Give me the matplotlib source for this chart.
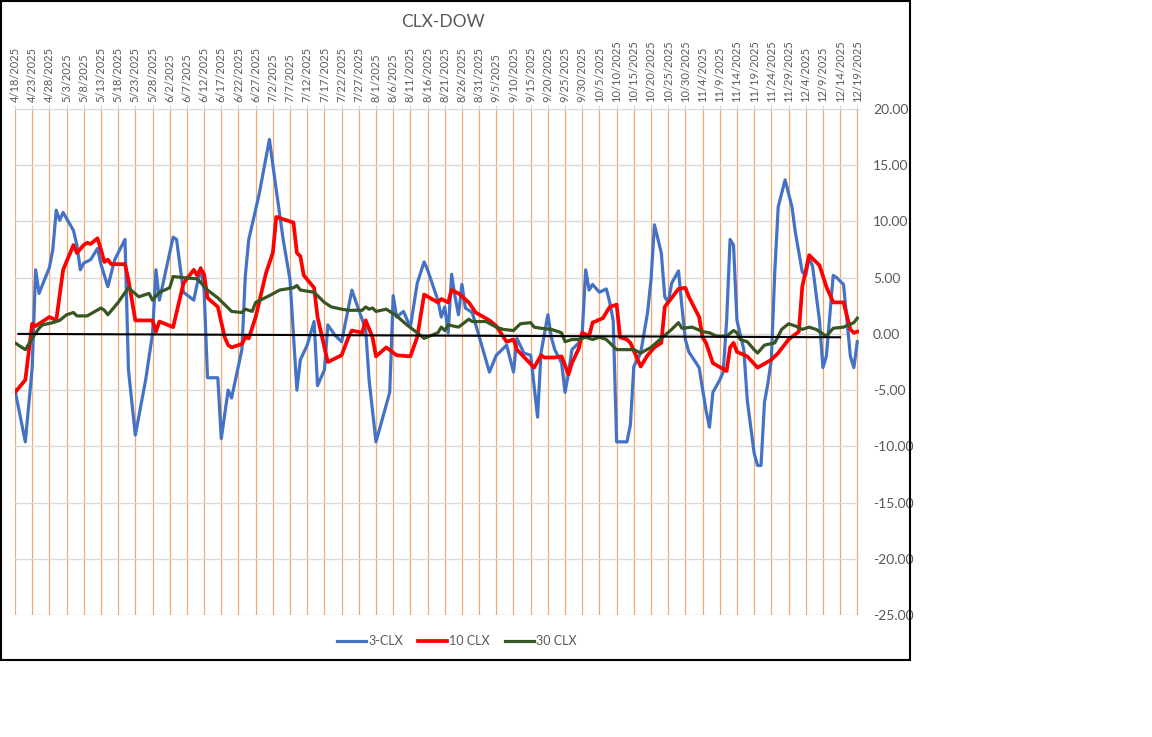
import pandas as pd
import matplotlib
matplotlib.use("Agg")
import matplotlib.pyplot as plt
from matplotlib.patches import Rectangle

plt.rcParams['font.family'] = ['Lato', 'DejaVu Sans']

# 3-day series
blue_dates = ["4/18", "4/21", "4/23", "4/24", "4/25", "4/28", "4/29", "4/30", "5/1", "5/2",
              "5/5", "5/6", "5/7", "5/8", "5/10", "5/12", "5/13", "5/15", "5/17", "5/20",
              "5/21", "5/23", "5/26", "5/28", "5/29", "5/30", "5/31", "6/3", "6/4", "6/6",
              "6/9", "6/11", "6/12", "6/13", "6/16", "6/17", "6/19", "6/20", "6/23", "6/24",
              "6/25", "6/28", "7/1", "7/3", "7/5", "7/7", "7/9", "7/10", "7/12", "7/14",
              "7/15", "7/17", "7/18", "7/20", "7/22", "7/25", "7/26", "7/29", "7/30", "8/1",
              "8/4", "8/5", "8/6", "8/7", "8/9", "8/11", "8/13", "8/15", "8/16", "8/19",
              "8/20", "8/21", "8/22", "8/23", "8/24", "8/25", "8/26", "8/27", "8/29", "9/3",
              "9/5", "9/8", "9/10", "9/11", "9/13", "9/15", "9/17", "9/18", "9/20", "9/21",
              "9/22", "9/24", "9/25", "9/26", "9/27", "9/29", "9/30", "10/1", "10/2", "10/3",
              "10/5", "10/7", "10/8", "10/9", "10/10", "10/13", "10/14", "10/15", "10/17", "10/19",
              "10/20", "10/21", "10/23", "10/24", "10/25", "10/26", "10/28", "10/29", "10/30", "10/31",
              "11/3", "11/5", "11/6", "11/7", "11/9", "11/10", "11/11", "11/12", "11/13", "11/14",
              "11/16", "11/17", "11/19", "11/20", "11/21", "11/22", "11/23", "11/24", "11/25", "11/26",
              "11/28", "11/30", "12/1", "12/3", "12/4", "12/5", "12/6", "12/8", "12/9", "12/10",
              "12/12", "12/13", "12/15", "12/17", "12/18", "12/19"]
blue_vals = [-5.0, -9.6, -3.0, 5.7, 3.6, 5.9, 7.5, 11.0, 10.1, 10.8,
             9.2, 7.9, 5.7, 6.3, 6.6, 7.6, 6.2, 4.2, 6.6, 8.4,
             -3.2, -9.0, -4.1, 0.0, 5.7, 3.0, 4.4, 8.6, 8.4, 3.7,
             3.0, 5.9, 3.9, -3.9, -3.9, -9.3, -5.0, -5.7, -1.4, 5.2,
             8.4, 12.4, 17.3, 12.8, 8.4, 4.8, -5.0, -2.3, -1.0, 1.1,
             -4.6, -3.2, 0.8, -0.1, -0.7, 3.9, 3.0, 0.4, -4.1, -9.6,
             -6.3, -5.2, 3.4, 1.5, 2.0, 0.6, 4.5, 6.4, 5.7, 3.0,
             1.5, 2.4, 0.1, 5.3, 3.3, 1.7, 4.4, 2.3, 1.9, -3.4,
             -1.9, -1.0, -3.4, -0.4, -1.7, -1.9, -7.4, -1.7, 1.7, -0.3,
             -1.4, -2.6, -5.2, -3.5, -1.4, -0.8, 0.1, 5.7, 3.9, 4.4,
             3.7, 4.0, 2.8, 1.2, -9.6, -9.6, -8.1, -2.9, -1.7, 1.9,
             4.8, 9.7, 7.2, 3.3, 2.8, 4.5, 5.6, 2.4, -0.5, -1.6,
             -3.0, -6.8, -8.3, -5.2, -4.1, -3.4, 1.2, 8.4, 7.9, 1.2,
             -1.4, -5.9, -10.6, -11.7, -11.7, -6.1, -4.4, -2.3, 5.5, 11.3,
             13.7, 11.3, 9.0, 5.5, 5.2, 6.8, 6.0, 1.2, -3.0, -2.0,
             5.2, 5.0, 4.4, -2.0, -3.0, -0.7]

# 10-day series
red_dates = ["4/18", "4/21", "4/23", "4/24", "4/28", "4/30", "5/2", "5/5", "5/6", "5/8",
             "5/9", "5/10", "5/12", "5/13", "5/14", "5/15", "5/16", "5/20", "5/21", "5/23",
             "5/28", "5/29", "5/30", "6/3", "6/4", "6/6", "6/9", "6/10", "6/11", "6/12",
             "6/13", "6/16", "6/18", "6/19", "6/20", "6/23", "6/24", "6/25", "6/27", "6/30",
             "7/2", "7/3", "7/8", "7/9", "7/10", "7/11", "7/14", "7/15", "7/17", "7/18",
             "7/22", "7/24", "7/25", "7/28", "7/29", "7/31", "8/1", "8/4", "8/7", "8/11",
             "8/13", "8/15", "8/19", "8/20", "8/22", "8/23", "8/25", "8/28", "8/30", "9/3",
             "9/5", "9/8", "9/10", "9/11", "9/16", "9/18", "9/19", "9/22", "9/24", "9/26",
             "9/27", "9/29", "9/30", "10/2", "10/3", "10/6", "10/8", "10/10", "10/11", "10/13",
             "10/14", "10/17", "10/19", "10/21", "10/23", "10/24", "10/26", "10/28", "10/30", "10/31",
             "11/3", "11/4", "11/5", "11/7", "11/11", "11/12", "11/13", "11/14", "11/17", "11/20",
             "11/24", "11/26", "11/29", "12/2", "12/3", "12/5", "12/8", "12/10", "12/12", "12/15",
             "12/17", "12/18", "12/19"]
red_vals = [-5.2, -4.1, 0.9, 0.7, 1.5, 1.2, 5.7, 7.9, 7.2, 7.9,
            8.1, 8.0, 8.5, 7.5, 6.4, 6.6, 6.2, 6.2, 4.8, 1.2,
            1.2, 0.2, 1.1, 0.6, 1.9, 4.5, 5.7, 5.2, 5.8, 5.3,
            3.2, 2.4, -0.3, -1.0, -1.2, -0.9, -0.3, -0.4, 1.5, 5.4,
            7.2, 10.4, 9.9, 7.2, 6.9, 5.2, 4.1, 1.5, -1.2, -2.5,
            -1.9, -0.3, 0.3, 0.1, 1.2, -0.3, -2.0, -1.2, -1.9, -2.0,
            -0.3, 3.5, 2.8, 3.1, 2.8, 3.9, 3.6, 2.8, 1.9, 1.2,
            0.7, -0.7, -0.5, -1.4, -3.0, -1.9, -2.1, -2.1, -2.0, -3.6,
            -2.6, -1.3, 0.1, -0.2, 1.0, 1.4, 2.4, 2.6, -0.3, -0.5,
            -0.8, -2.9, -1.9, -1.2, -0.8, 2.4, 3.2, 4.0, 4.1, 3.3,
            1.5, -0.3, -0.8, -2.6, -3.3, -1.2, -0.8, -1.6, -2.0, -3.0,
            -2.3, -1.7, -0.5, 0.2, 4.2, 7.0, 6.1, 4.2, 2.8, 2.8,
            0.4, 0.1, 0.2]

# 30-day series
green_dates = ["4/18", "4/21", "4/23", "4/25", "4/26", "4/29", "5/1", "5/3", "5/5", "5/6",
               "5/9", "5/13", "5/14", "5/15", "5/18", "5/21", "5/24", "5/27", "5/28", "5/30",
               "6/2", "6/3", "6/6", "6/10", "6/13", "6/16", "6/20", "6/23", "6/24", "6/26",
               "6/27", "7/1", "7/4", "7/8", "7/9", "7/10", "7/14", "7/17", "7/19", "7/22",
               "7/24", "7/28", "7/29", "7/30", "7/31", "8/1", "8/4", "8/7", "8/10", "8/13",
               "8/15", "8/19", "8/20", "8/21", "8/22", "8/25", "8/28", "8/29", "9/2", "9/5",
               "9/7", "9/10", "9/12", "9/15", "9/16", "9/18", "9/21", "9/24", "9/25", "9/27",
               "9/29", "10/1", "10/3", "10/5", "10/7", "10/10", "10/15", "10/17", "10/20", "10/23",
               "10/26", "10/28", "10/29", "11/1", "11/4", "11/6", "11/8", "11/11", "11/13", "11/14",
               "11/15", "11/17", "11/19", "11/20", "11/22", "11/25", "11/27", "11/29", "12/1", "12/3",
               "12/5", "12/7", "12/10", "12/12", "12/15", "12/18", "12/19"]
green_vals = [-0.8, -1.4, -0.4, 0.5, 0.8, 1.0, 1.2, 1.7, 1.9, 1.6,
              1.6, 2.3, 2.1, 1.7, 2.8, 4.1, 3.3, 3.6, 3.0, 3.7,
              4.1, 5.1, 5.0, 4.9, 3.9, 3.2, 2.0, 1.9, 2.2, 2.0,
              2.8, 3.4, 3.9, 4.1, 4.3, 3.9, 3.7, 2.8, 2.4, 2.2,
              2.1, 2.1, 2.4, 2.2, 2.3, 2.0, 2.2, 1.6, 0.8, 0.1,
              -0.4, 0.1, 0.6, 0.3, 0.8, 0.6, 1.3, 1.1, 1.1, 0.6,
              0.4, 0.3, 0.9, 1.0, 0.6, 0.5, 0.4, 0.1, -0.7, -0.5,
              -0.5, -0.3, -0.5, -0.3, -0.5, -1.4, -1.4, -1.7, -1.2, -0.4,
              0.4, 1.0, 0.5, 0.6, 0.2, 0.1, -0.2, -0.2, 0.3, 0.1,
              -0.5, -0.7, -1.4, -1.7, -1.0, -0.8, 0.4, 0.9, 0.7, 0.4,
              0.6, 0.4, -0.2, 0.5, 0.6, 1.0, 1.4]

# black reference line
ref_dates = ["4/19", "12/14"]
ref_vals = [0.0, -0.3]


def to_dt(lst):
    return pd.to_datetime(["2025/" + s for s in lst], format="%Y/%m/%d")


fig = plt.figure(figsize=(11.52, 7.37), dpi=100)
ax = fig.add_axes([15 / 1152, 1 - 615 / 737, (859 - 15) / 1152, (615 - 109) / 737])

ax.plot(to_dt(blue_dates), blue_vals, color="#4472C4", lw=2.3, label="3-CLX", zorder=3)
ax.plot(to_dt(red_dates), red_vals, color="#FF0000", lw=2.7, label="10 CLX", zorder=4)
ax.plot(to_dt(green_dates), green_vals, color="#375623", lw=2.3, label="30 CLX", zorder=5)
ax.plot(to_dt(ref_dates), ref_vals, color="black", lw=1.5, zorder=6)

ticks = pd.date_range("2025-04-18", "2025-12-19", freq="5D")
ax.set_xticks(ticks)
ax.set_xticklabels([f"{d.month}/{d.day}/{d.year}" for d in ticks], rotation=90,
                   fontsize=8, color="#595959")
ax.xaxis.tick_top()
ax.set_xlim(ticks[0], ticks[-1] + pd.Timedelta(hours=12))
ax.tick_params(axis="x", length=3, color="#D9D9D9", pad=2)

ax.set_ylim(-25, 20)
ax.set_yticks(range(-25, 21, 5))
ax.set_yticklabels([f"{v:.2f}" for v in range(-25, 21, 5)], fontsize=10, color="#595959")
ax.yaxis.tick_right()
ax.tick_params(axis="y", length=0, pad=10)

ax.grid(axis="x", color="#F4A870", lw=0.9)
ax.grid(axis="y", color="#D9D9D9", lw=1)
ax.set_axisbelow(True)
for s in ax.spines.values():
    s.set_visible(False)
ax.spines["top"].set_visible(True)
ax.spines["top"].set_color("#D9D9D9")

fig.text(443 / 1152, 1 - 22 / 737, "CLX-DOW", ha="center", va="center",
         fontsize=12.5, color="#595959")

fig.legend(loc="center", bbox_to_anchor=(457 / 1152, 1 - 641 / 737), ncol=3,
           frameon=False, fontsize=9, handlelength=2.3, handletextpad=0.2,
           columnspacing=1.2, labelcolor="#595959")

fig.patches.append(Rectangle((1 / 1152, 1 - 660 / 737), 909 / 1152, 659 / 737,
                             transform=fig.transFigure, fill=False,
                             edgecolor="black", lw=1.5))

fig.savefig("out.png", dpi=100)
